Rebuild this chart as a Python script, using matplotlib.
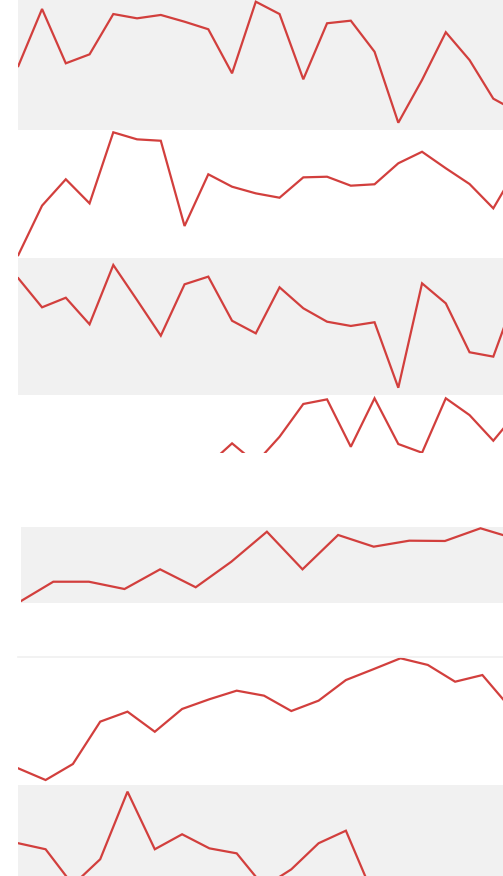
import numpy as np
import matplotlib
matplotlib.use("Agg")
import matplotlib.pyplot as plt

nan = np.nan

# valores de cada sparkline (escala 0-100 de su panel)
serie_1 = [49.2, 93.1, 51.3, 58.2, 89.2, 85.9, 88.5, 83.3, 77.5, 43.6, 98.7,
           89.2, 39.0, 82.1, 84.1, 60.2, 5.6, 38.5, 75.2, 53.8, 24.1, 14.1]
serie_2 = [2.3, 40.9, 61.5, 42.7, 98.2, 92.7, 91.6, 25.0, 65.4, 55.7, 50.5,
           47.1, 63.0, 63.5, 56.5, 57.6, 74.0, 83.0, 70.1, 57.8, 38.8, 70.5]
serie_3 = [85.2, 64.0, 71.0, 51.6, 94.9, 69.3, 43.3, 80.8, 86.4, 54.2, 45.0,
           78.6, 63.3, 53.5, 50.4, 53.1, 5.3, 81.5, 66.9, 31.2, 28.0, 75.5]
serie_4 = [nan, nan, nan, nan, nan, nan, nan, nan, 47.1, 63.4, 48.5,
           68.4, 93.2, 96.7, 60.8, 97.5, 62.9, 56.3, 97.5, 84.8, 65.4, 87.1]
serie_5 = [0.0, 28.0, 28.0, 18.4, 44.3, 20.7, 54.3, 93.8, 44.3, 89.5, 74.1,
           82.0, 81.6, 98.3, 84.2]
serie_6 = [13.0, 3.9, 16.4, 49.5, 57.3, 41.6, 59.4, 67.0, 73.7, 69.8, 57.8,
           65.9, 82.0, 90.4, 99.0, 93.8, 80.7, 85.9, 60.9]
serie_7 = [54.5, 49.8, 21.9, 42.0, 94.8, 49.8, 61.5, 50.5, 46.6, 20.5, 34.1,
           54.5, 64.3, 14.1]

W, H = 503, 876
GRIS = "#f1f1f1"
ROJO = "#d23f3d"

fig = plt.figure(figsize=(W / 100, H / 100), dpi=100)
fig.patch.set_facecolor("white")

# (serie, izq px, arriba px, abajo px, fondo, x0 px, paso px, ylim)
paneles = [
    (serie_1, 18, 0, 130, GRIS, 18.3, 23.75, (0, 100)),
    (serie_2, 18, 130, 258, "white", 18.3, 23.75, (0, 100)),
    (serie_3, 18, 258, 395, GRIS, 18.3, 23.75, (0, 100)),
    (serie_4, 18, 395, 453, "white", 18.3, 23.75, (56.1, 100)),
    (serie_5, 21, 527, 603, GRIS, 17.7, 35.6, (0, 100)),
    (serie_6, 18, 657, 785, "white", 18.3, 27.3, (0, 100)),
    (serie_7, 18, 785, 876, GRIS, 18.3, 27.3, (28.9, 100)),
]

ejes = []
for serie, izq, arriba, abajo, fondo, x0, paso, ylim in paneles:
    ax = fig.add_axes([izq / W, 1 - abajo / H, (W - izq) / W, (abajo - arriba) / H])
    ax.set_facecolor(fondo)
    x = np.arange(len(serie))
    ax.plot(x, serie, color=ROJO, lw=1.6, solid_joinstyle="miter")
    ax.set_xlim((izq - x0) / paso, (W - x0) / paso)
    ax.set_ylim(*ylim)
    ax.set_xticks([])
    ax.set_yticks([])
    for s in ax.spines.values():
        s.set_visible(False)
    ejes.append(ax)

# linea muy tenue sobre el panel 6
ejes[5].spines["top"].set_visible(True)
ejes[5].spines["top"].set_color("#f0f0f0")
ejes[5].spines["top"].set_linewidth(1.2)

fig.savefig("out.png", dpi=100)
